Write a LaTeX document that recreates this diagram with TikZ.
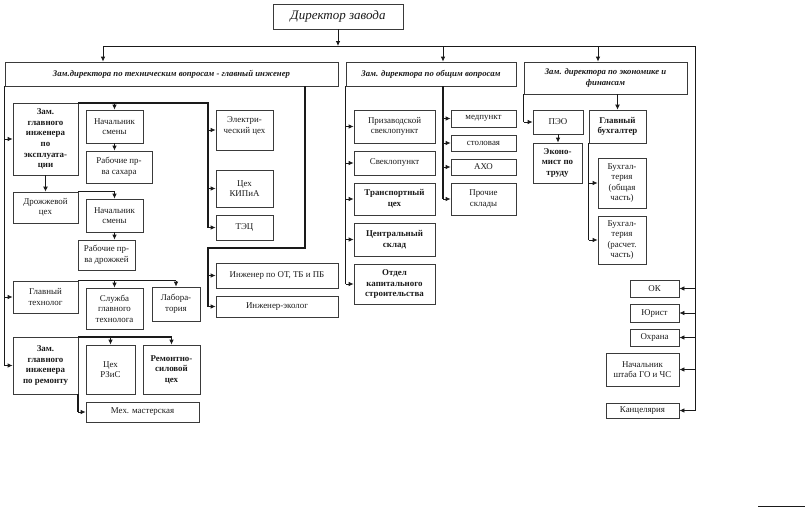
\documentclass[tikz,border=0pt]{standalone}
\usepackage{fontspec}
\setmainfont{Liberation Serif}
\usetikzlibrary{arrows.meta}
\definecolor{linec}{HTML}{1A1A1A}
\definecolor{framec}{HTML}{3A3A3A}
\newcommand\boxfont{\fontsize{8.9}{10.6}\selectfont}
\tikzset{
  box/.style={draw=framec,line width=0.75pt,align=center,inner sep=1pt,font=\boxfont,text=linec},
  bbox/.style={box,font=\boxfont\bfseries},
  head/.style={box,font=\fontsize{8.7}{11}\selectfont\bfseries\itshape},
  sz/.style 2 args={minimum width=#1,minimum height=#2},
  ln/.style={line width=0.75pt,linec},
  ar/.style={-{Latex[length=5pt,width=4.5pt]},line width=0.75pt,linec},
  tk/.style={line width=1.8pt,linec},
  tkar/.style={tk,-{Latex[length=5pt,width=5pt]}}
}
\begin{document}
\begin{tikzpicture}[x=1pt,y=-1pt]
\useasboundingbox (0,0) rectangle (805,507);
\node[box,sz={130}{25},font=\fontsize{13}{15}\selectfont\itshape] (dir) at (338,16.5) {Директор завода};
\node[head,sz={333}{24}] (tech) at (171.5,74) {Зам.директора по техническим вопросам - главный инженер};
\node[head,sz={170}{24}] (gen) at (431,74) {Зам. директора по общим вопросам};
\node[head,sz={163}{32}] (econ) at (605.5,78) {Зам. директора по экономике и\\финансам};
\coordinate (busL) at (103,46);
\coordinate (busG) at (443,46);
\coordinate (busE) at (598,46);
\coordinate (busR) at (695,46);
%
\node[bbox,sz={65}{72}] (zge) at (45.5,139) {Зам.\\главного\\инженера\\по\\эксплуата-\\ции};
\node[box,sz={57}{33}] (ns1) at (114.5,126.5) {Начальник\\смены};
\node[box,sz={66}{32}] (rs) at (119,167) {Рабочие пр-\\ва сахара};
\node[box,sz={65}{31}] (dc) at (45.5,207.5) {Дрожжевой\\цех};
\node[box,sz={57}{33}] (ns2) at (114.5,215.5) {Начальник\\смены};
\node[box,sz={57}{30}] (rd) at (106.5,255) {Рабочие пр-\\ва дрожжей};
\node[box,sz={57}{40},text depth=10pt] (el) at (244.5,130) {Электри-\\ческий цех};
\node[box,sz={57}{37}] (kip) at (244.5,188.5) {Цех\\КИПиА};
\node[box,sz={57}{25}] (tec) at (244.5,227.5) {ТЭЦ};
\node[box,sz={122}{25}] (ot) at (277,275.5) {Инженер по ОТ, ТБ и ПБ};
\node[box,sz={122}{21}] (eco) at (277,306.5) {Инженер-эколог};
\node[box,sz={65}{32}] (gt) at (45.5,297) {Главный\\технолог};
\node[box,sz={57}{41}] (sgt) at (114.5,308.5) {Служба\\главного\\технолога};
\node[box,sz={48}{34}] (lab) at (176,304) {Лабора-\\тория};
\node[bbox,sz={65}{57}] (zgr) at (45.5,365.5) {Зам.\\главного\\инженера\\по ремонту};
\node[box,sz={49}{49}] (rzs) at (110.5,369.5) {Цех\\РЗиС};
\node[bbox,sz={57}{49}] (rsc) at (171.5,369.5) {Ремонтно-\\силовой\\цех};
\node[box,sz={113}{20}] (mm) at (142.5,412) {Мех. мастерская};
%
\node[box,sz={81}{33}] (pz) at (394.5,126.5) {Призаводской\\свеклопункт};
\node[box,sz={81}{24}] (sv) at (394.5,163) {Свеклопункт};
\node[bbox,sz={81}{32}] (tr) at (394.5,199) {Транспортный\\цех};
\node[bbox,sz={81}{33}] (cs) at (394.5,239.5) {Центральный\\склад};
\node[bbox,sz={81}{40}] (oks) at (394.5,284) {Отдел\\капитального\\строительства};
\node[box,sz={65}{17}] (med) at (483.5,118.5) {медпункт};
\node[box,sz={65}{16}] (sto) at (483.5,143) {столовая};
\node[box,sz={65}{16}] (aho) at (483.5,167) {АХО};
\node[box,sz={65}{32}] (pro) at (483.5,199) {Прочие\\склады};
%
\node[box,sz={50}{24}] (peo) at (558,122) {ПЭО};
\node[bbox,sz={49}{40}] (ekt) at (557.5,163) {Эконо-\\мист по\\труду};
\node[bbox,sz={57}{33}] (gb) at (617.5,126.5) {Главный\\бухгалтер};
\node[box,sz={48}{50}] (bo) at (622,183) {Бухгал-\\терия\\(общая\\часть)};
\node[box,sz={48}{48}] (br) at (622,240) {Бухгал-\\терия\\(расчет.\\часть)};
\node[box,sz={49}{17}] (ok) at (654.5,288.5) {ОК};
\node[box,sz={49}{18}] (yur) at (654.5,313) {Юрист};
\node[box,sz={49}{17}] (ohr) at (654.5,337.5) {Охрана};
\node[box,sz={73}{33}] (gochs) at (642.5,369.5) {Начальник\\штаба ГО и ЧС};
\node[box,sz={73}{15}] (kanc) at (642.5,410.5) {Канцелярия};
%
\draw[ar] (dir.south) -- (dir.south |- busL);
\draw[ln] (busL) -- (busR) -- (busR |- kanc.east);
\draw[ar] (busL) -- (busL |- tech.north);
\draw[ar] (busG) -- (busG |- gen.north);
\draw[ar] (busE) -- (busE |- econ.north);
\foreach \n in {ok,yur,ohr,gochs,kanc} \draw[ar] (busR |- \n.east) -- (\n.east);
%
\draw[ln] (tech.south west) -- (tech.south west |- zgr.west);
\foreach \n in {zge,gt,zgr} \draw[ar] (tech.south west |- \n.west) -- (\n.west);
\coordinate (tk1) at (305,248);
\coordinate (tk2) at (208,248);
\draw[tk] (tech.south -| tk1) -- (tk1) -- (tk2) -- (tk2 |- eco.west);
\foreach \n in {ot,eco} \draw[ar] (tk2 |- \n.west) -- (\n.west);
\draw[tk] (zge.north east) -- (zge.north east -| tk2) -- (tk2 |- tec.west);
\foreach \n in {el,kip,tec} \draw[ar] (tk2 |- \n.west) -- (\n.west);
\draw[ar] (zge.north east -| ns1.north) -- (ns1.north);
\draw[ar] (ns1.south) -- (ns1.south |- rs.north);
\draw[tkar] (zge.south) -- (dc.north);
\draw[ar] (dc.north east) -- (dc.north east -| ns2.north) -- (ns2.north);
\draw[ar] (ns2.south) -- (ns2.south |- rd.north);
\draw[ln] (gt.north east) -- (gt.north east -| lab.north);
\foreach \n in {sgt,lab} \draw[ar] (gt.north east -| \n.north) -- (\n.north);
\draw[tk] (zgr.north east) -- (zgr.north east -| rsc.north);
\foreach \n in {rzs,rsc} \draw[ar] (zgr.north east -| \n.north) -- (\n.north);
\draw[tk] (zgr.south east) -- (zgr.south east |- mm.west);
\draw[ar] (zgr.south east |- mm.west) -- (mm.west);
%
\draw[ln] (gen.south west) -- (gen.south west |- oks.west);
\foreach \n in {pz,sv,tr,cs,oks} \draw[ar] (gen.south west |- \n.west) -- (\n.west);
\draw[tk] (gen.south -| busG) -- (busG |- pro.west);
\foreach \n in {med,sto,aho,pro} \draw[ar] (busG |- \n.west) -- (\n.west);
%
\draw[ln] (econ.south west) -- (econ.south west |- peo.west);
\draw[ar] (econ.south west |- peo.west) -- (peo.west);
\draw[ar] (peo.south) -- (peo.south |- ekt.north);
\draw[tkar] (econ.south -| gb.north) -- (gb.north);
\draw[ln] (gb.south west) -- (gb.south west |- br.west);
\foreach \n in {bo,br} \draw[ar] (gb.south west |- \n.west) -- (\n.west);
\draw[ln] (758,506) -- (805,506);
\end{tikzpicture}
\end{document}
